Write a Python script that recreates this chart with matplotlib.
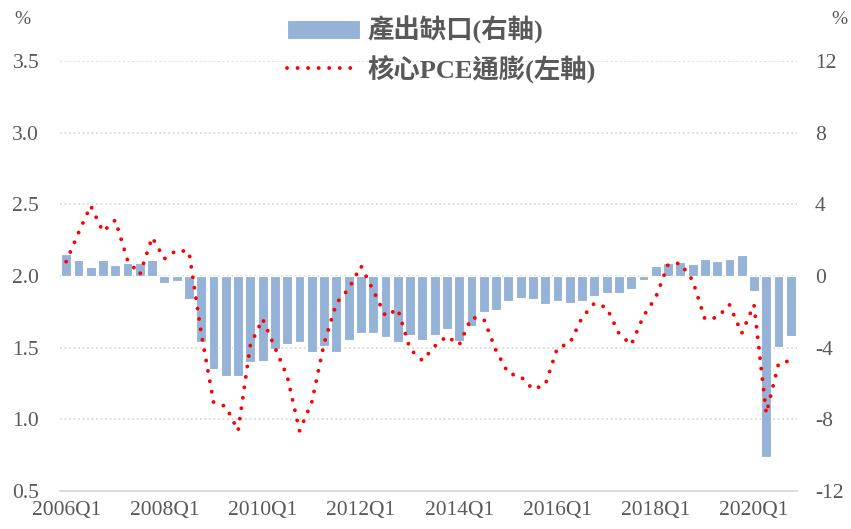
import matplotlib
matplotlib.use("Agg")
import matplotlib.pyplot as plt
import numpy as np
from matplotlib.ticker import FormatStrFormatter

# ---------------- data ----------------
years = list(range(2006, 2021))
quarters = [f"{y}Q{q}" for y in years for q in range(1, 5)]  # 2006Q1 .. 2020Q4

# Output gap (%, right axis)
output_gap = [1.25, 0.9, 0.5, 0.9, 0.6, 0.75, 0.75, 0.9,
              -0.4, -0.3, -1.3, -3.7, -5.2, -5.6, -5.6, -4.8,
              -4.75, -4.1, -3.8, -3.7, -4.25, -3.9, -4.25, -3.55,
              -3.2, -3.2, -3.4, -3.7, -3.3, -3.55, -3.3, -2.95,
              -3.6, -2.8, -2.0, -1.9, -1.4, -1.2, -1.3, -1.55,
              -1.4, -1.5, -1.4, -1.1, -0.95, -0.95, -0.7, -0.2,
              0.55, 0.75, 0.8, 0.65, 0.95, 0.85, 0.95, 1.15,
              -0.85, -10.1, -3.95, -3.35]

# Core PCE inflation (%, left axis)
core_pce = [2.10, 2.30, 2.49, 2.31, 2.39, 2.11, 2.01, 2.27,
            2.12, 2.18, 2.17, 1.60, 1.12, 1.09, 0.92, 1.52,
            1.70, 1.50, 1.30, 0.92, 1.12, 1.53, 1.81, 1.91,
            2.07, 1.90, 1.72, 1.77, 1.49, 1.41, 1.51, 1.58,
            1.52, 1.71, 1.70, 1.48, 1.32, 1.30, 1.21, 1.24,
            1.50, 1.53, 1.71, 1.81, 1.78, 1.60, 1.52, 1.72,
            1.85, 2.08, 2.09, 1.97, 1.70, 1.71, 1.80, 1.60,
            1.80, 1.04, 1.39, 1.41]

left_ticks = [0.5, 1.0, 1.5, 2.0, 2.5, 3.0, 3.5]
right_ticks = [-12, -8, -4, 0, 4, 8, 12]
xtick_labels = ["2006Q1", "2008Q1", "2010Q1", "2012Q1", "2014Q1", "2016Q1", "2018Q1", "2020Q1"]

label_gap = "產出缺口(右軸)"
label_pce = "核心PCE通膨(左軸)"

# ---------------- style ----------------
GRAY_TXT = "#595959"
BAR_COLOR = "#95B3D7"
SERIF = ["Liberation Serif", "Noto Sans CJK TC", "DejaVu Sans"]
plt.rcParams["font.family"] = SERIF
plt.rcParams["axes.unicode_minus"] = False

W, H = 851, 529
fig = plt.figure(figsize=(W / 100, H / 100), dpi=100)
ax_l = fig.add_axes([60 / W, 1 - 491 / H, (797 - 60) / W, (491 - 61) / H])
ax_r = ax_l.twinx()

x = np.arange(len(quarters))

# bars on right axis (drawn beneath)
ax_r.set_zorder(1)
ax_l.set_zorder(2)
ax_l.patch.set_visible(False)

bars = ax_r.bar(x, output_gap, width=0.8, color=BAR_COLOR, edgecolor="white",
                linewidth=0.8, label=label_gap, zorder=2)

line, = ax_l.plot(x, core_pce, color="#FF0000", linewidth=2.8,
                  linestyle=(0, (0.01, 2.7)), dash_capstyle="round",
                  solid_capstyle="round", label=label_pce, zorder=3)

# axes limits / ticks
ax_l.set_xlim(-0.5, len(quarters) - 0.5)
ax_l.set_ylim(0.5, 3.5)
ax_r.set_ylim(-12, 12)
ax_l.set_yticks(left_ticks)
ax_r.set_yticks(right_ticks)
ax_l.yaxis.set_major_formatter(FormatStrFormatter("%.1f"))
ax_l.set_xticks(x[::8])
ax_l.set_xticklabels(xtick_labels)

# gridlines (dotted) on left ticks except bottom
for v in left_ticks[1:]:
    ax_r.axhline((v - 2.0) * 8, color="#D9D9D9", linewidth=1.3,
                 linestyle=(0, (1, 1.5)), zorder=0)

for a in (ax_l, ax_r):
    for s in a.spines.values():
        s.set_visible(False)
ax_l.spines["bottom"].set_visible(True)
ax_l.spines["bottom"].set_color("#D9D9D9")
ax_l.spines["bottom"].set_linewidth(1.3)

tick_fs = 15.5
ax_l.tick_params(axis="y", length=0, pad=15, labelsize=tick_fs, labelcolor=GRAY_TXT)
ax_r.tick_params(axis="y", length=0, pad=13, labelsize=tick_fs, labelcolor=GRAY_TXT)
ax_l.tick_params(axis="x", length=0, pad=7, labelsize=tick_fs, labelcolor=GRAY_TXT)

# percent signs
fig.text(22 / W, 1 - 20 / H, "%", ha="center", va="center", fontsize=14, color=GRAY_TXT)
fig.text(839 / W, 1 - 20 / H, "%", ha="center", va="center", fontsize=14, color=GRAY_TXT)

# legend
leg = fig.legend(handles=[bars, line], labels=[label_gap, label_pce],
                 loc="upper left", bbox_to_anchor=(287 / W, 1 - 16 / H),
                 bbox_transform=fig.transFigure, frameon=False,
                 borderpad=0, borderaxespad=0, handlelength=2.75,
                 handleheight=0.75, handletextpad=0.3, labelspacing=0.4,
                 prop={"family": SERIF, "size": 19, "weight": "bold"})
for t in leg.get_texts():
    t.set_color(GRAY_TXT)

fig.savefig("out.png", dpi=100)
